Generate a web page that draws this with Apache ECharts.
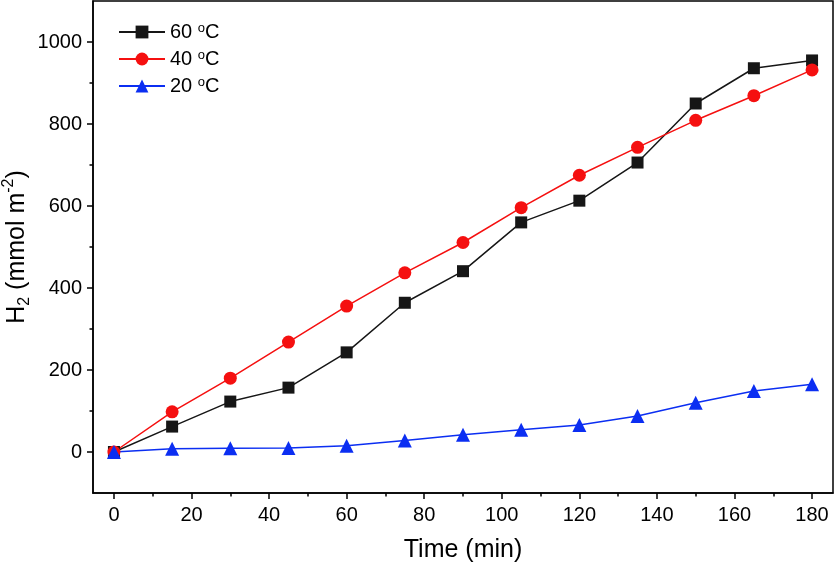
<!DOCTYPE html>
<html>
<head>
<meta charset="utf-8">
<script src="https://cdn.jsdelivr.net/npm/echarts@6/dist/echarts.min.js"></script>
<style>
  html, body { margin: 0; padding: 0; background: #fff; }
  #chart { width: 836px; height: 564px; }
</style>
</head>
<body>
<div id="chart"></div>
<script>
  // time in minutes
  var times = [0, 15, 30, 45, 60, 75, 90, 105, 120, 135, 150, 165, 180]
  // H2 (mmol m-2)
  var h60 = [0, 62, 123, 157, 243, 364, 441, 560, 613, 706, 850, 936, 955]
  var h40 = [0, 98, 180, 268, 356, 437, 511, 596, 675, 743, 809, 869, 932]
  var h20 = [0, 8, 9, 10, 15, 28, 42, 54, 66, 88, 120, 149, 165]

  var xMajor = [0, 20, 40, 60, 80, 100, 120, 140, 160, 180]
  var xMinor = [10, 30, 50, 70, 90, 110, 130, 150, 170]
  var yMajor = [0, 200, 400, 600, 800, 1000]
  var yMinor = [100, 300, 500, 700, 900]

  var font = 'Liberation Sans, Arial, sans-serif'

  function pairs(ys) {
    return times.map(function (t, i) { return [t, ys[i]] })
  }

  var chart = echarts.init(document.getElementById('chart'))

  var lineSeries = function (name, ys, color, symbol, size) {
    return {
      name: name,
      type: 'line',
      data: pairs(ys),
      symbol: symbol,
      symbolSize: size,
      showAllSymbol: true,
      lineStyle: { color: color, width: 1.5 },
      itemStyle: { color: color },
      emphasis: { disabled: true },
      animation: false
    }
  }

  var plain = function (v) { return String(v) }

  chart.setOption({
    animation: false,
    textStyle: { fontFamily: font },
    grid: {
      left: 93,
      right: 3,
      top: 1,
      bottom: 71,
      outerBoundsMode: 'none',
      show: true,
      borderColor: '#000',
      borderWidth: 1.5
    },
    legend: {
      left: 118,
      top: 22,
      padding: 0,
      orient: 'vertical',
      itemWidth: 46,
      itemHeight: 16,
      itemGap: 7,
      formatter: function (name) {
        return name.replace('°', '{sup|o}')
      },
      textStyle: {
        fontFamily: font,
        fontSize: 20,
        color: '#000',
        lineHeight: 20,
        rich: {
          sup: { fontSize: 13, verticalAlign: 'top', lineHeight: 20, fontFamily: font, color: '#000' }
        }
      }
    },
    xAxis: [
      {
        type: 'value',
        min: -5.4,
        max: 185.4,
        name: 'Time (min)',
        nameLocation: 'middle',
        nameGap: 45,
        nameMoveOverlap: false,
        nameTextStyle: { fontFamily: font, fontSize: 25, color: '#000' },
        splitLine: { show: false },
        axisLine: { onZero: false, lineStyle: { color: '#000', width: 1.5 } },
        axisTick: { show: true, length: 6, customValues: xMajor, lineStyle: { color: '#000', width: 1.5 } },
        axisLabel: { customValues: xMajor, formatter: plain, margin: 12, fontFamily: font, fontSize: 20, color: '#000' }
      },
      {
        type: 'value',
        position: 'bottom',
        min: -5.4,
        max: 185.4,
        splitLine: { show: false },
        axisLine: { show: false, onZero: false },
        axisTick: { show: true, length: 3.5, customValues: xMinor, lineStyle: { color: '#000', width: 1.5 } },
        axisLabel: { show: false }
      }
    ],
    yAxis: [
      {
        type: 'value',
        min: -100,
        max: 1100,
        name: 'H{sub|2} (mmol m{sup|-2})',
        nameLocation: 'middle',
        nameGap: 60,
        nameMoveOverlap: false,
        nameTextStyle: {
          fontFamily: font,
          fontSize: 25,
          color: '#000',
          lineHeight: 32,
          rich: {
            sub: { fontSize: 16, verticalAlign: 'bottom', lineHeight: 32, fontFamily: font, color: '#000' },
            sup: { fontSize: 16, verticalAlign: 'top', lineHeight: 32, fontFamily: font, color: '#000' }
          }
        },
        splitLine: { show: false },
        axisLine: { show: true, onZero: false, lineStyle: { color: '#000', width: 1.5 } },
        axisTick: { show: true, length: 6, customValues: yMajor, lineStyle: { color: '#000', width: 1.5 } },
        axisLabel: { customValues: yMajor, formatter: plain, margin: 11, fontFamily: font, fontSize: 20, color: '#000' }
      },
      {
        type: 'value',
        position: 'left',
        min: -100,
        max: 1100,
        splitLine: { show: false },
        axisLine: { show: false, onZero: false },
        axisTick: { show: true, length: 3.5, customValues: yMinor, lineStyle: { color: '#000', width: 1.5 } },
        axisLabel: { show: false }
      }
    ],
    series: [
      lineSeries('60 °C', h60, '#161616', 'rect', 12),
      lineSeries('40 °C', h40, '#f51010', 'circle', 13),
      lineSeries('20 °C', h20, '#0b2ef2', 'triangle', 14)
    ]
  })
</script>
</body>
</html>
